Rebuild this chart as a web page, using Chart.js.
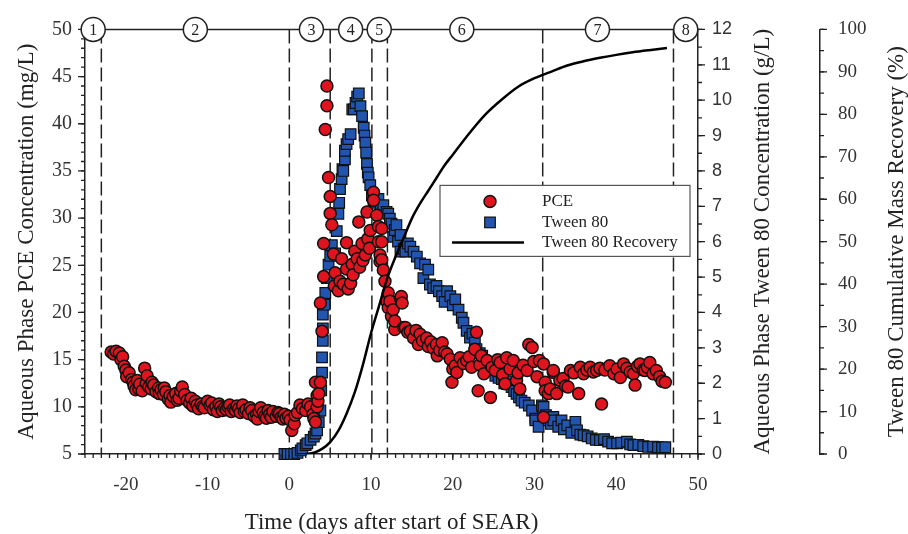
<!DOCTYPE html>
<html>
<head>
<meta charset="utf-8">
<script src="https://cdn.jsdelivr.net/npm/chart.js@4.4.0/dist/chart.umd.min.js"></script>
<style>
  html,body{margin:0;padding:0;background:#fff}
  #wrap{width:908px;height:534px}
</style>
</head>
<body>
<div id="wrap"><canvas id="c" width="908" height="534"></canvas></div>
<script>
// ---- data ----
const xTicks = [-20,-10,0,10,20,30,40,50];
const pceTicks = [5,10,15,20,25,30,35,40,45,50];
const tweenTicks = [0,1,2,3,4,5,6,7,8,9,10,11,12];
const recTicks = [0,10,20,30,40,50,60,70,80,90,100];

// phase boundaries (days) and circled phase labels
const phaseBounds = [-23,0,5,10.1,12,31,47];
const phaseLabelDays = [-24,-11.5,2.7,7.5,11,21.1,37.7,48.5];
const phaseLabels = ['1','2','3','4','5','6','7','8'];

// PCE, mg/L  [day, conc]
const pcePoints = [
  [-21.8,15.8],[-21.5,15.6],[-21.2,15.9],[-20.8,15.7],[-20.6,15.0],[-20.4,15.3],[-20.2,14.3],[-20.0,13.9],
  [-19.9,13.2],[-19.6,13.6],[-19.3,12.9],[-19.1,12.6],[-19.0,12.2],[-18.8,11.8],[-18.6,12.8],[-18.4,11.9],
  [-18.3,12.4],[-18.0,11.7],[-17.7,14.1],[-17.5,12.5],[-17.4,13.3],[-17.2,12.1],[-16.9,11.9],[-16.8,12.6],
  [-16.6,12.3],[-16.3,11.6],[-16.0,12.0],[-15.9,11.4],[-15.7,11.8],[-15.4,11.3],[-15.3,12.0],[-15.1,11.6],
  [-14.8,10.8],[-14.6,11.2],[-14.5,10.5],[-14.2,11.1],[-13.9,11.4],[-13.7,10.7],[-13.5,10.9],[-13.3,11.7],
  [-13.1,12.1],[-12.8,11.3],[-12.5,10.7],[-12.2,10.4],[-12.0,10.9],[-11.8,10.1],[-11.5,10.6],[-11.3,10.2],
  [-11.1,9.8],[-10.8,10.3],[-10.6,10.0],[-10.4,9.9],[-10.0,10.6],[-9.7,10.2],[-9.5,10.4],[-9.3,9.7],
  [-9.0,10.0],[-8.8,9.5],[-8.6,10.3],[-8.4,10.0],[-8.2,9.6],[-7.9,9.9],[-7.7,9.7],[-7.5,10.0],[-7.3,10.2],
  [-7.1,9.5],[-6.8,9.8],[-6.6,9.6],[-6.4,10.1],[-6.2,9.8],[-6.0,9.4],[-5.7,10.2],[-5.5,9.5],[-5.3,9.7],
  [-5.0,9.3],[-4.8,9.9],[-4.6,9.6],[-4.3,9.0],[-4.0,9.2],[-3.9,8.7],[-3.7,9.5],[-3.5,9.9],[-3.2,9.4],
  [-3.0,9.0],[-2.8,8.8],[-2.6,9.6],[-2.4,9.2],[-2.2,8.9],[-2.0,9.5],[-1.6,9.0],[-1.4,9.4],[-1.2,9.3],
  [-1.0,8.9],[-0.8,8.7],[-0.6,9.2],[-0.4,8.8],[-0.1,9.0],
  [0.1,8.6],[0.3,7.5],[0.6,8.2],[0.7,9.1],[1.0,9.4],[1.3,10.2],[1.6,9.8],[2.0,9.6],[2.3,10.3],[2.6,10.0],
  [2.9,9.2],[3.0,8.75],[3.2,8.4],[3.2,12.6],[3.4,10.0],[3.4,11.2],[3.5,10.6],[3.6,11.4],[3.8,12.6],
  [3.8,21.0],[4.0,18.0],[4.2,23.8],[4.2,27.3],[4.4,39.4],[4.6,41.9],[4.6,44.0],[4.8,34.3],[5.0,32.3],
  [5.0,30.5],[5.2,29.3],[5.4,26.2],[5.5,22.8],[5.6,24.2],[6.0,22.3],[6.2,23.3],[6.4,25.7],[6.6,23.0],
  [7.0,27.4],[7.0,24.6],[7.2,22.5],[7.5,23.1],[7.7,25.1],[7.8,24.0],[8.0,26.5],[8.3,25.7],[8.5,29.6],
  [8.6,24.8],[8.9,27.3],[9.0,25.5],[9.3,26.1],[9.5,30.65],[9.6,27.8],[9.8,26.8],[9.9,28.7],[10.3,32.75],
  [10.3,31.9],[10.7,30.3],[10.9,29.1],[10.9,27.5],[11.1,26.1],[11.1,25.4],
  [11.3,28.9],[11.3,27.5],[11.3,25.6],[11.5,24.5],[11.7,23.3],[11.9,21.2],[12.1,22.1],[12.1,20.5],
  [12.3,21.2],[12.5,19.6],[12.7,20.3],[12.9,18.2],[12.9,19.1],[13.6,21.5],[13.7,21.7],[13.8,21.0],
  [14.0,18.4],[14.2,18.4],[14.5,17.9],[14.8,18.0],[15.2,17.3],[15.5,18.1],[15.8,16.6],[16.0,17.7],
  [16.3,17.0],[16.8,17.3],[17.0,16.4],[17.3,16.9],[17.6,16.2],[18.0,16.6],[18.1,15.4],[18.4,16.0],
  [18.7,16.8],[19.0,15.8],[19.3,15.6],[19.7,15.05],[19.9,12.6],[20.0,14.0],[20.3,14.35],[20.5,13.65],
  [20.9,15.2],[21.3,14.6],[21.7,14.9],[22.0,15.3],[22.3,14.2],[22.7,16.1],[22.9,17.9],[23.1,11.7],
  [23.3,14.45],[23.5,15.4],[23.8,13.5],[24.2,14.9],[24.6,11.0],[24.8,14.2],[25.2,13.85],[25.5,15.0],
  [25.8,14.7],[26.1,13.4],[26.4,12.45],[26.6,15.2],[27.0,14.0],[27.4,14.9],[27.8,12.8],[28.0,13.6],
  [28.2,11.9],[28.6,14.4],[29.1,13.85],[29.3,16.6],[29.7,16.3],[29.9,14.8],[30.3,13.2],[30.6,14.9],
  [31.1,14.55],[31.1,8.9],[31.3,12.6],[31.3,11.7],[31.7,11.4],[31.9,11.9],[32.3,13.65],[32.3,13.85],
  [32.7,11.4],[33.1,12.8],[33.5,13.0],[33.8,12.2],[34.1,12.1],[34.4,13.85],[34.8,13.6],[35.4,11.4],
  [35.6,14.2],[36.0,13.5],[36.4,13.9],[36.8,14.2],[37.2,13.7],[37.6,13.85],[38.0,14.1],[38.2,10.3],
  [38.6,13.9],[39.2,14.35],[39.7,13.5],[40.1,14.0],[40.5,13.1],[40.9,14.55],[41.3,14.1],[41.7,13.7],
  [42.1,13.5],[42.3,12.3],[42.6,14.3],[42.9,14.55],[43.3,13.9],[43.5,13.85],[43.8,14.2],[44.1,14.7],
  [44.5,13.5],[44.9,13.85],[45.3,13.2],[45.6,12.7],[46.0,12.6]
];

// Tween 80, g/L  [day, conc]
const tweenPoints = [
  [-0.6,0],[-0.2,0],[0.2,0],[0.6,0],[1.0,0.03],[1.4,0.1],[1.6,0.16],[2.0,0.25],[2.2,0.3],[2.6,0.4],
  [3.0,0.49],[3.2,0.58],[3.4,0.67],[3.6,0.9],[3.8,1.23],[3.9,1.8],[4.0,2.3],[4.0,2.73],[4.1,3.2],
  [4.1,3.55],[4.1,3.94],[4.3,4.22],[4.4,4.55],[4.6,4.97],[4.8,5.35],[5.0,5.6],[5.2,5.9],[5.6,5.67],
  [5.8,6.3],[6.0,6.79],[6.1,7.1],[6.2,7.49],[6.4,7.77],[6.5,8.05],[6.6,8.0],[6.8,8.33],[6.8,8.57],
  [7.0,8.76],[7.2,8.9],[7.5,9.04],[7.7,9.74],[7.9,9.74],[8.1,9.92],[8.3,10.1],[8.5,10.19],[8.7,9.83],
  [8.9,9.55],[9.1,9.22],[9.2,9.0],[9.3,8.8],[9.4,8.52],[9.5,8.2],[9.6,7.95],[9.7,7.82],[9.9,7.6],
  [10.1,7.3],[10.3,7.17],[10.6,7.1],[10.9,7.21],[11.2,6.95],[11.5,7.03],[11.9,6.84],[12.1,6.79],
  [12.3,6.65],[12.5,6.51],[12.7,6.14],[12.9,6.33],[13.1,6.47],[13.3,6.0],[13.6,6.19],[13.6,5.72],
  [14.0,5.8],[14.2,5.72],[14.5,5.95],[14.8,5.86],[15.2,5.72],[15.6,5.58],[16.0,5.39],[16.4,4.97],
  [16.6,5.35],[17.0,5.21],[17.2,4.79],[17.6,4.69],[18.0,4.75],[18.3,4.6],[18.7,4.46],[19.0,4.3],
  [19.3,4.6],[19.7,4.46],[20.0,4.2],[20.3,4.37],[20.7,4.08],[21.1,3.85],[21.3,3.71],[21.7,3.48],
  [22.1,3.29],[22.4,3.4],[22.7,3.15],[22.9,2.96],[23.3,2.85],[23.6,2.78],[24.0,2.54],[24.3,2.6],
  [24.6,2.35],[24.9,2.4],[25.2,2.21],[25.6,2.15],[26.0,2.12],[26.3,2.0],[26.6,1.98],[26.9,2.05],
  [27.2,1.89],[27.5,1.78],[27.8,1.7],[28.1,1.6],[28.4,1.51],[28.8,1.45],[29.3,1.37],[29.7,1.23],
  [30.1,1.0],[30.1,0.95],[30.5,0.77],[30.9,1.37],[31.1,1.33],[31.4,1.1],[31.7,0.95],[32.0,0.85],
  [32.3,1.05],[32.3,0.95],[32.9,0.77],[33.3,0.95],[33.6,0.7],[34.0,0.81],[34.5,0.6],[35.0,0.91],
  [35.2,0.67],[35.6,0.55],[36.0,0.53],[36.5,0.5],[37.0,0.44],[37.5,0.4],[38.0,0.39],[38.5,0.42],
  [39.0,0.35],[39.5,0.3],[40.1,0.3],[40.6,0.32],[41.3,0.35],[41.7,0.27],[42.1,0.25],[42.7,0.26],
  [43.3,0.22],[43.9,0.2],[44.5,0.21],[45.1,0.19],[45.6,0.18],[46.0,0.19]
];

// Tween 80 cumulative recovery, %  [day, pct]
const recoveryPoints = [
  [2.0,0],[3.0,0.3],[4.0,1.2],[5.0,2.8],[6.0,5.5],[7.0,9.5],[8.0,14.5],[9.0,21],[10.0,28.5],
  [11.0,35],[12.0,41.5],[13.0,46.5],[14.0,51],[15.0,55.5],[16.0,59],[17.0,62],[18.0,65],[19.0,68],
  [20.0,70.5],[22.0,75.5],[24.0,80],[26.0,83.5],[28.0,86.5],[30.0,88.5],[32.0,90],[34.0,91.5],
  [36.0,92.5],[38.0,93.3],[40.0,94],[42.0,94.6],[44.0,95.1],[46.2,95.6]
];

// ---- styling ----
const SERIF = '"Liberation Serif", "Times New Roman", serif';
const SANS = '"Liberation Sans", Arial, sans-serif';
const INK = '#222';
const RED = '#e0141e', BLUE = '#2155b0';

function range(a,b,s){const r=[];for(let v=a;v<=b+1e-9;v+=s)r.push(+v.toFixed(3));return r;}

const toXY = arr => arr.map(p=>({x:p[0],y:p[1]}));

// tick marks (major + minor), drawn through each scale
function marks(ctx, scale, vals, len, side){
  ctx.beginPath();
  vals.forEach(v=>{
    const p = scale.getPixelForValue(v);
    if(side==='down'){ctx.moveTo(p,scale.top);ctx.lineTo(p,scale.top+len);}
    else if(side==='left'){ctx.moveTo(scale.right,p);ctx.lineTo(scale.right-len,p);}
    else {ctx.moveTo(scale.left,p);ctx.lineTo(scale.left+len,p);}
  });
  ctx.stroke();
}

const framePlugin = {
  id:'frame',
  beforeDatasetsDraw(chart){
    const {ctx, chartArea:ca, scales:{x}} = chart;
    ctx.save();
    ctx.strokeStyle = INK; ctx.lineWidth = 1.5;
    ctx.setLineDash([14,5]);
    phaseBounds.forEach(d=>{
      const px = x.getPixelForValue(d);
      ctx.beginPath(); ctx.moveTo(px,ca.top); ctx.lineTo(px,ca.bottom); ctx.stroke();
    });
    ctx.restore();
  },
  afterDatasetsDraw(chart){
    const {ctx, chartArea:ca, scales:{x,y,y1,y2}} = chart;
    ctx.save();
    ctx.strokeStyle = INK; ctx.lineWidth = 1.3;
    marks(ctx,x,range(-25,50,1),4,'down');  marks(ctx,x,xTicks,6,'down');
    marks(ctx,y,range(5,50,1),4,'left');    marks(ctx,y,pceTicks,7,'left');
    marks(ctx,y1,range(0,12,0.5),4,'right');marks(ctx,y1,tweenTicks,7,'right');
    marks(ctx,y2,range(0,100,5),4,'right'); marks(ctx,y2,recTicks,7,'right');

    // top line with circled phase numbers
    ctx.lineWidth = 1.5;
    ctx.beginPath(); ctx.moveTo(ca.left,ca.top); ctx.lineTo(ca.right,ca.top); ctx.stroke();
    ctx.font = '16px '+SERIF; ctx.textAlign='center'; ctx.textBaseline='middle';
    phaseLabelDays.forEach((d,i)=>{
      const px = x.getPixelForValue(d);
      ctx.beginPath(); ctx.arc(px,ca.top,12,0,Math.PI*2);
      ctx.fillStyle='#fff'; ctx.fill(); ctx.stroke();
      ctx.fillStyle=INK; ctx.fillText(phaseLabels[i],px,ca.top+1);
    });

    // legend box
    const bx = ca.left+355, by = ca.top+156, bw = 250, bh = 71;
    ctx.fillStyle='#fff'; ctx.fillRect(bx,by,bw,bh);
    ctx.strokeStyle='#555'; ctx.lineWidth=1.2; ctx.strokeRect(bx,by,bw,bh);
    ctx.font='17px '+SERIF; ctx.textAlign='left'; ctx.fillStyle=INK;
    const mx = bx+50, tx = bx+102;
    ctx.beginPath(); ctx.arc(mx,by+16,6,0,Math.PI*2);
    ctx.fillStyle=RED; ctx.fill(); ctx.strokeStyle='#111'; ctx.lineWidth=1.5; ctx.stroke();
    ctx.fillStyle=BLUE; ctx.fillRect(mx-5.3,by+37-5.3,10.6,10.6); ctx.lineWidth=1.2; ctx.strokeRect(mx-5.3,by+37-5.3,10.6,10.6);
    ctx.beginPath(); ctx.moveTo(bx+12,by+57); ctx.lineTo(bx+84,by+57); ctx.strokeStyle='#000'; ctx.lineWidth=2.5; ctx.stroke();
    ctx.fillStyle=INK;
    ctx.fillText('PCE',tx,by+16); ctx.fillText('Tween 80',tx,by+37); ctx.fillText('Tween 80 Recovery',tx,by+57);
    ctx.restore();
  },
  afterDraw(chart){
    const {ctx, chartArea:ca, scales:{y1,y2}} = chart;
    const cy = (ca.top+ca.bottom)/2;
    ctx.save();
    ctx.font='23px '+SERIF; ctx.fillStyle=INK; ctx.textAlign='center'; ctx.textBaseline='middle';
    [[y1.left+65,'Aqueous Phase Tween 80 Concentration (g/L)'],[y2.left+77,'Tween 80 Cumulative Mass Recovery (%)']].forEach(([tx,t])=>{
      ctx.save(); ctx.translate(tx,cy); ctx.rotate(-Math.PI/2); ctx.fillText(t,0,0); ctx.restore();
    });
    ctx.restore();
  }
};

const setTicks = vals => s => { s.ticks = vals.map(v=>({value:v})); };
const noGrid = {display:false, drawTicks:false};
const border = {display:true, color:INK, width:1.5};

new Chart(document.getElementById('c'),{
  type:'scatter',
  data:{datasets:[
    {label:'PCE', data:toXY(pcePoints), yAxisID:'y', order:1,
     pointStyle:'circle', pointRadius:6, backgroundColor:RED, borderColor:'#111', borderWidth:1.5},
    {label:'Tween 80', data:toXY(tweenPoints), yAxisID:'y1', order:2, clip:false,
     pointStyle:'rect', pointRadius:7.5, backgroundColor:BLUE, borderColor:'#111', borderWidth:1.2},
    {type:'line', label:'Tween 80 Recovery', data:toXY(recoveryPoints), yAxisID:'y2', order:0,
     showLine:true, pointRadius:0, borderColor:'#000', borderWidth:2.5, cubicInterpolationMode:'monotone', fill:false}
  ]},
  options:{
    responsive:false, animation:false, devicePixelRatio:1,
    layout:{padding:{top:26,left:0,right:0,bottom:0}},
    plugins:{legend:{display:false}, tooltip:{enabled:false}},
    scales:{
      x:{type:'linear', position:'bottom', min:-25, max:50, afterBuildTicks:setTicks(xTicks),
         grid:noGrid, border,
         ticks:{font:{family:SERIF,size:19}, color:'#333', padding:20, maxRotation:0, autoSkip:false},
         title:{display:true, text:'Time (days after start of SEAR)', color:INK, font:{family:SERIF,size:23,lineHeight:1}, padding:{top:0,bottom:0}},
         afterFit:s=>{s.height=80;}},
      y:{type:'linear', position:'left', min:5, max:50, afterBuildTicks:setTicks(pceTicks),
         grid:noGrid, border,
         ticks:{font:{family:SERIF,size:20}, color:'#333', padding:13},
         title:{display:true, text:'Aqueous Phase PCE Concentration (mg/L)', color:INK, font:{family:SERIF,size:23,lineHeight:1}, padding:{top:15,bottom:0}},
         afterFit:s=>{s.width=85;}},
      y1:{type:'linear', position:'right', weight:0, min:0, max:12, afterBuildTicks:setTicks(tweenTicks),
         grid:noGrid, border,
         ticks:{font:{family:SANS,size:18}, color:'#333', padding:14},
         afterFit:s=>{s.width=122;}},
      y2:{type:'linear', position:'right', weight:1, min:0, max:100, afterBuildTicks:setTicks(recTicks),
         grid:noGrid, border,
         ticks:{font:{family:SERIF,size:19}, color:'#333', padding:18},
         afterFit:s=>{s.width=88;}}
    }
  },
  plugins:[framePlugin]
});
</script>
</body>
</html>
